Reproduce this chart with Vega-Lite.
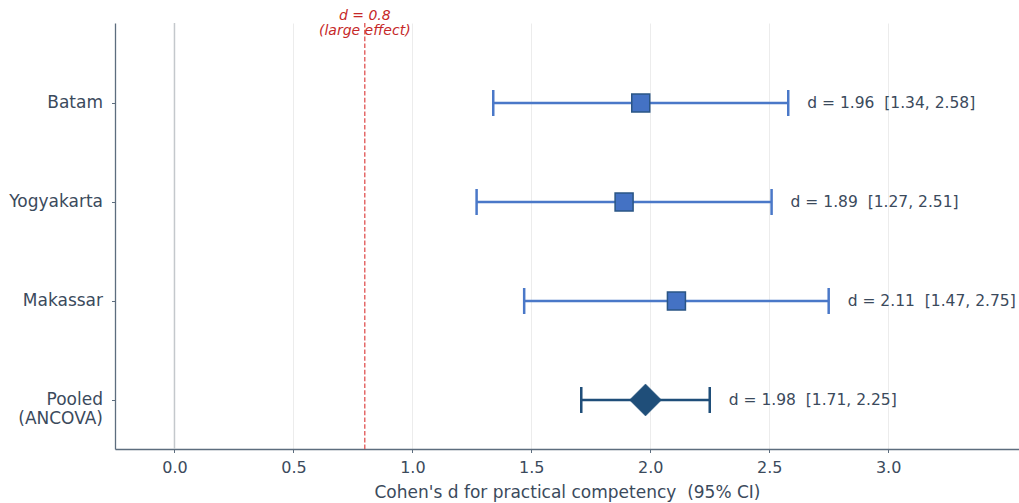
{
  "$schema": "https://vega.github.io/schema/vega-lite/v6.json",
  "width": 904,
  "height": 426,
  "autosize": {"type": "none"},
  "padding": {"left": 115, "top": 23, "right": 0, "bottom": 54},
  "background": "white",
  "config": {
    "view": {"stroke": null},
    "font": "DejaVu Sans",
    "text": {"font": "DejaVu Sans"}
  },
  "datasets": {
    "studies": [
      {"site": "Batam", "kind": "site", "d": 1.96, "lo": 1.34, "hi": 2.58, "label": "d = 1.96\u00a0 [1.34, 2.58]"},
      {"site": "Yogyakarta", "kind": "site", "d": 1.89, "lo": 1.27, "hi": 2.51, "label": "d = 1.89\u00a0 [1.27, 2.51]"},
      {"site": "Makassar", "kind": "site", "d": 2.11, "lo": 1.47, "hi": 2.75, "label": "d = 2.11\u00a0 [1.47, 2.75]"},
      {"site": "Pooled (ANCOVA)", "kind": "pooled", "d": 1.98, "lo": 1.71, "hi": 2.25, "label": "d = 1.98\u00a0 [1.71, 2.25]"}
    ],
    "zero": [{"ref": 0}],
    "large": [{"ref": 0.8, "note": "d = 0.8\n(large effect)"}]
  },
  "data": {"name": "studies"},
  "encoding": {
    "y": {
      "field": "site",
      "type": "nominal",
      "sort": null,
      "scale": {"type": "point", "domain": ["Batam", "Yogyakarta", "Makassar", "Pooled (ANCOVA)"], "padding": 0.6515, "align": 0.62},
      "axis": {
        "title": null,
        "domain": true,
        "domainColor": "#5d6d7e",
        "domainWidth": 1.3,
        "ticks": true,
        "tickColor": "#5d6d7e",
        "tickSize": 3.5,
        "tickWidth": 1,
        "labelFontSize": 17,
        "labelColor": "#3b4a5c",
        "labelPadding": 9,
        "labelLineHeight": 19,
        "labelExpr": "datum.value == 'Pooled (ANCOVA)' ? ['Pooled', '(ANCOVA)'] : datum.value",
        "grid": false
      }
    }
  },
  "layer": [
    {
      "data": {"name": "zero"},
      "mark": {"type": "rule", "color": "#c4c8cc", "strokeWidth": 1.5},
      "encoding": {
        "x": {
          "field": "ref",
          "type": "quantitative",
          "scale": {"domain": [-0.25, 3.55], "nice": false, "zero": false},
          "axis": {
            "title": "Cohen's d for practical competency\u00a0 (95% CI)",
            "titleFontSize": 17,
            "titleFontWeight": "normal",
            "titleColor": "#3b4a5c",
            "titlePadding": 9,
            "values": [0, 0.5, 1, 1.5, 2, 2.5, 3],
            "format": ".1f",
            "labelFontSize": 16,
            "labelColor": "#3b4a5c",
            "labelPadding": 7,
            "domainColor": "#5d6d7e",
            "domainWidth": 1.3,
            "tickColor": "#5d6d7e",
            "tickSize": 3.5,
            "grid": true,
            "gridColor": "#ececec",
            "gridWidth": 1
          }
        },
        "y": null
      }
    },
    {
      "data": {"name": "large"},
      "mark": {"type": "rule", "color": "#e05252", "strokeWidth": 1.3, "strokeDash": [4.6, 2.2]},
      "encoding": {"x": {"field": "ref", "type": "quantitative"}, "y": null}
    },
    {
      "data": {"name": "large"},
      "mark": {"type": "text", "color": "#c62828", "fontStyle": "italic", "fontSize": 14, "lineBreak": "\n", "lineHeight": 15, "align": "center", "baseline": "middle", "dy": -7},
      "encoding": {"x": {"field": "ref", "type": "quantitative"}, "y": {"value": 0}, "text": {"field": "note"}}
    },
    {
      "mark": {"type": "rule", "strokeWidth": 2.5},
      "encoding": {
        "x": {"field": "lo", "type": "quantitative"},
        "x2": {"field": "hi"},
        "color": {"field": "kind", "type": "nominal", "scale": {"domain": ["site", "pooled"], "range": ["#4a78c8", "#1f4e79"]}, "legend": null}
      }
    },
    {
      "mark": {"type": "tick", "orient": "vertical", "size": 26, "thickness": 2.5, "opacity": 1},
      "encoding": {
        "x": {"field": "lo", "type": "quantitative"},
        "color": {"field": "kind", "type": "nominal", "legend": null}
      }
    },
    {
      "mark": {"type": "tick", "orient": "vertical", "size": 26, "thickness": 2.5, "opacity": 1},
      "encoding": {
        "x": {"field": "hi", "type": "quantitative"},
        "color": {"field": "kind", "type": "nominal", "legend": null}
      }
    },
    {
      "transform": [{"filter": "datum.kind == 'site'"}],
      "mark": {"type": "point", "shape": "square", "filled": true, "size": 324, "fill": "#4472c4", "stroke": "#2a5585", "strokeWidth": 1.5, "opacity": 1},
      "encoding": {"x": {"field": "d", "type": "quantitative"}}
    },
    {
      "transform": [{"filter": "datum.kind == 'pooled'"}],
      "mark": {"type": "point", "shape": "diamond", "filled": true, "size": 1024, "fill": "#1f4e79", "stroke": "#1f4e79", "strokeWidth": 0.5, "opacity": 1},
      "encoding": {"x": {"field": "d", "type": "quantitative"}}
    },
    {
      "mark": {"type": "text", "align": "left", "baseline": "middle", "dx": 19, "fontSize": 15.5, "color": "#3b4a5c"},
      "encoding": {"x": {"field": "hi", "type": "quantitative"}, "text": {"field": "label"}}
    }
  ]
}
